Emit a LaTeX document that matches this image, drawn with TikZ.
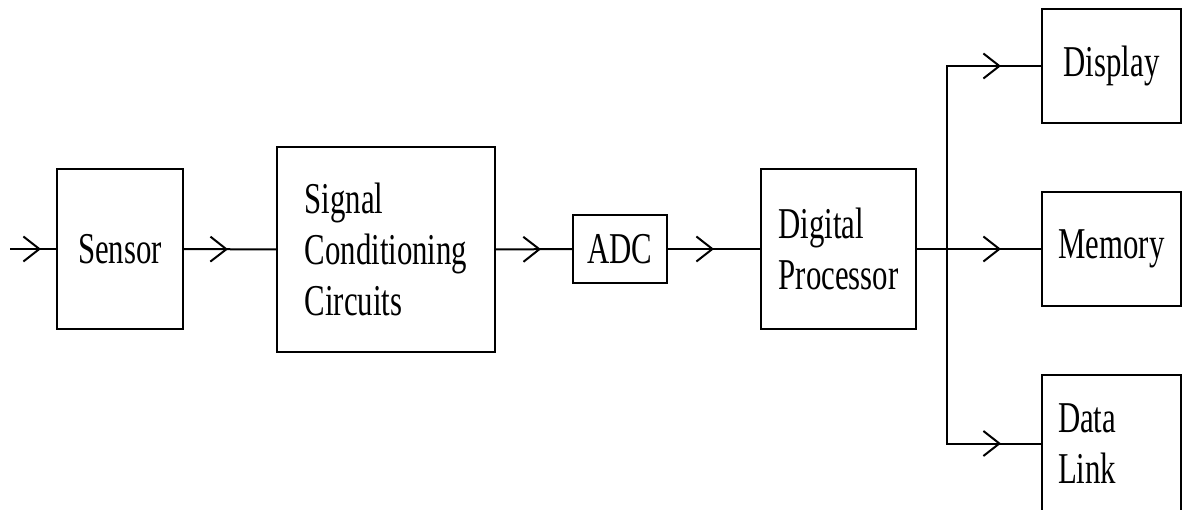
\documentclass[tikz,border=0pt]{standalone}
\usepackage{fontspec}
\setmainfont{LiberationSerif}[Extension=.ttf, UprightFont=*-Regular, BoldFont=*-Bold, ItalicFont=*-Italic, BoldItalicFont=*-BoldItalic, FakeStretch=0.7]
\usetikzlibrary{arrows.meta,decorations.markings}
\begin{document}
\begin{tikzpicture}[x=1pt,y=-1pt,
  line width=2pt,
  box/.style={draw, rectangle, align=left, inner sep=0pt,
    font=\rmfamily\fontsize{44}{51}\selectfont},
  flow/.style={postaction={decorate, decoration={markings,
    mark=at position -#1 with {\arrow{Straight Barb[length=16pt,width=25pt]}}}}}
]
\clip (0,0) rectangle (1182,510);
\node[box, minimum width=126pt, minimum height=160pt] (sensor) at (120,249) {Sensor};
\node[box, minimum width=218pt, minimum height=205pt] (scc) at (386,249.5) {Signal\\Conditioning\\Circuits};
\node[box, minimum width=94pt, minimum height=68pt] (adc) at (620,249) {ADC};
\node[box, minimum width=155pt, minimum height=160pt] (dp) at (838.5,249) {Digital\\Processor};
\node[box, minimum width=139pt, minimum height=114pt] (display) at (1111.5,66) {Display};
\node[box, minimum width=139pt, minimum height=114pt] (memory) at (1111.5,249) {Memory};
\node[box, minimum width=139pt, minimum height=137pt, text width=107pt, inner xsep=16pt] (datalink) at (1111.5,443.5) {Data\\Link};
\coordinate (in) at (10,249);
\coordinate (br) at (947,249);
\draw[flow=15pt] (in) -- (sensor.west);
\draw[flow=48pt] (sensor.east) -- (scc.west);
\draw[flow=31pt] (scc.east) -- (adc.west);
\draw[flow=46pt] (adc.east) -- (dp.west);
\draw[flow=40pt] (dp.east) -- (memory.west);
\draw[flow=40pt] (br) |- (display.west);
\draw[flow=40pt] (br) |- (datalink.west);
\end{tikzpicture}
\end{document}
